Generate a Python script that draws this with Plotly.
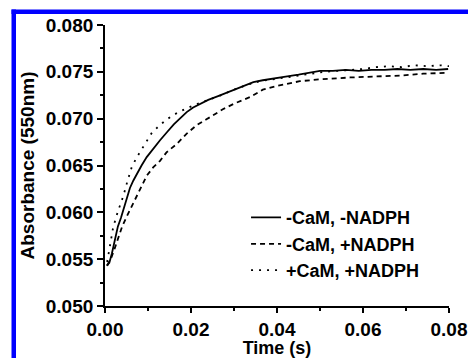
import plotly.graph_objects as go

# -CaM, -NADPH (solid)
t_solid = [0.0004, 0.0010, 0.0016, 0.0023, 0.0030, 0.0037, 0.0043, 0.0050, 0.0058, 0.0066,
           0.0075, 0.0085, 0.0097, 0.0110, 0.0128, 0.0145, 0.0160, 0.0174, 0.0190, 0.0205,
           0.0221, 0.0240, 0.0263, 0.0285, 0.0305, 0.0325, 0.0345, 0.0367, 0.0390, 0.0420,
           0.0450, 0.0480, 0.0500, 0.0530, 0.0560, 0.0590, 0.0620, 0.0650, 0.0680, 0.0710,
           0.0740, 0.0770, 0.0798]
a_solid = [0.0543, 0.0546, 0.0556, 0.0572, 0.0585, 0.0594, 0.0604, 0.0615, 0.0626, 0.0634,
           0.0642, 0.0650, 0.0659, 0.0667, 0.0677, 0.0686, 0.0694, 0.0700, 0.0707, 0.0712,
           0.0716, 0.0720, 0.0724, 0.0728, 0.0732, 0.0736, 0.0739, 0.0741, 0.0743, 0.0745,
           0.0747, 0.0749, 0.0751, 0.0751, 0.0752, 0.0751, 0.0752, 0.0752, 0.0753, 0.0752,
           0.0753, 0.0752, 0.0753]

# -CaM, +NADPH (dashed)
t_dash = [0.0005, 0.0015, 0.0023, 0.0031, 0.0040, 0.0050, 0.0062, 0.0078, 0.0097, 0.0112,
          0.0128, 0.0143, 0.0167, 0.0190, 0.0213, 0.0235, 0.0256, 0.0274, 0.0300, 0.0337,
          0.0367, 0.0400, 0.0453, 0.0500, 0.0570, 0.0620, 0.0686, 0.0740, 0.0798]
a_dash = [0.0543, 0.0552, 0.0562, 0.0574, 0.0585, 0.0595, 0.0606, 0.0620, 0.0639, 0.0648,
          0.0655, 0.0664, 0.0673, 0.0684, 0.0693, 0.0699, 0.0705, 0.0710, 0.0716, 0.0723,
          0.0731, 0.0735, 0.0740, 0.0742, 0.0744, 0.0745, 0.0746, 0.0748, 0.0749]

# +CaM, +NADPH (dotted)
t_dot = [0.0005, 0.0012, 0.0019, 0.0030, 0.0043, 0.0052, 0.0062, 0.0073, 0.0085, 0.0097,
         0.0109, 0.0125, 0.0143, 0.0160, 0.0171, 0.0190, 0.0210, 0.0240, 0.0270, 0.0300,
         0.0330, 0.0360, 0.0390, 0.0420, 0.0450, 0.0480, 0.0510, 0.0540, 0.0570, 0.0600,
         0.0630, 0.0660, 0.0690, 0.0720, 0.0750, 0.0780, 0.0800]
a_dot = [0.0547, 0.0565, 0.0584, 0.0601, 0.0618, 0.0633, 0.0648, 0.0658, 0.0667, 0.0677,
         0.0685, 0.0692, 0.0699, 0.0704, 0.0707, 0.0711, 0.0715, 0.0720, 0.0725, 0.0731,
         0.0736, 0.0740, 0.0742, 0.0744, 0.0746, 0.0748, 0.0750, 0.0751, 0.0752, 0.0753,
         0.0755, 0.0756, 0.0755, 0.0757, 0.0756, 0.0757, 0.0756]

names = ["-CaM, -NADPH", "-CaM, +NADPH", "+CaM, +NADPH"]

FONT = "Arial, Liberation Sans, sans-serif"

fig = go.Figure()
fig.add_trace(go.Scatter(x=t_solid, y=a_solid, mode="lines", name=names[0],
                         line=dict(color="black", width=1.8)))
fig.add_trace(go.Scatter(x=t_dash, y=a_dash, mode="lines", name=names[1],
                         line=dict(color="black", width=1.8, dash="5px,4px")))
fig.add_trace(go.Scatter(x=t_dot, y=a_dot, mode="lines", name=names[2],
                         line=dict(color="black", width=1.8, dash="2px,6px")))

axis_common = dict(showline=True, linecolor="black", linewidth=1.8, ticks="outside",
                   tickcolor="black", tickwidth=1.6, showgrid=False, zeroline=False,
                   mirror=False)

fig.update_xaxes(range=[0, 0.08], dtick=0.02, tick0=0, tickformat=".2f", ticklen=5,
                 minor=dict(dtick=0.01, ticks="outside", ticklen=3, tickcolor="black", tickwidth=1.6),
                 tickfont=dict(family=FONT, size=19, color="black", weight="bold"),
                 title=dict(text="Time (s)", standoff=1,
                            font=dict(family=FONT, size=18, color="black", weight="bold")),
                 **axis_common)
fig.update_yaxes(range=[0.050, 0.080], dtick=0.005, tick0=0.05, tickformat=".3f", ticklen=6,
                 minor=dict(dtick=0.0025, ticks="outside", ticklen=3, tickcolor="black", tickwidth=1.6),
                 tickfont=dict(family=FONT, size=19, color="black", weight="bold"),
                 title=dict(text="Absorbance (550nm)", standoff=6,
                            font=dict(family=FONT, size=19, color="black", weight="bold")),
                 **axis_common)

# blue frame (top and left edges)
fig.add_shape(type="rect", xref="paper", yref="paper", x0=-0.2718, x1=-0.2587, y0=-0.2, y1=1.0552,
              fillcolor="#0000FF", line=dict(width=0), layer="above")
fig.add_shape(type="rect", xref="paper", yref="paper", x0=-0.2718, x1=1.07, y0=1.0391, y1=1.0552,
              fillcolor="#0000FF", line=dict(width=0), layer="above")

fig.update_layout(
    width=468, height=358,
    margin=dict(l=105, r=19, t=25, b=52, autoexpand=False),
    paper_bgcolor="white", plot_bgcolor="white",
    showlegend=True,
    legend=dict(x=0.41, y=0.38, xanchor="left", yanchor="top", bgcolor="rgba(0,0,0,0)",
                font=dict(family=FONT, size=18, color="black", weight="bold"),
                tracegroupgap=0, itemwidth=30),
)

fig.write_html("out.html", config={"displayModeBar": False},
               post_script="document.body.style.margin='0';document.body.style.overflow='hidden';")
